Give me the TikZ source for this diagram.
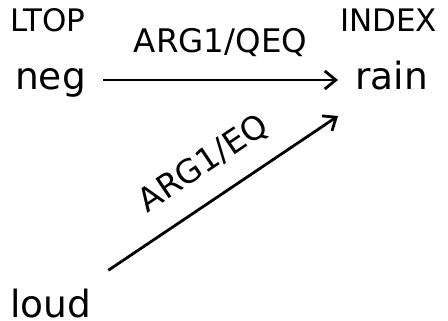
\documentclass[tikz,border=0pt]{standalone}
\usepackage{fontspec}
\setmainfont{DejaVu Sans}
\usetikzlibrary{arrows.meta,calc}
\tikzset{
  word/.style={inner sep=0pt, anchor=base west, font=\fontsize{37.5}{40}\selectfont},
  role/.style={inner sep=0pt, anchor=base west, font=\fontsize{31}{34}\selectfont},
  edgelabel/.style={inner sep=0pt, text depth=0pt, font=\fontsize{32.5}{35}\selectfont},
  link/.style={line width=2.8pt, -{Straight Barb[length=11pt,width=18pt]}}
}
\begin{document}
\begin{tikzpicture}[x=1pt,y=-1pt]
\useasboundingbox (0,0) rectangle (448,321);
\node[role] (ltop) at (10,32) {LTOP};
\node[role] (index) at (340,32) {INDEX};
\node[word] (neg) at (15,90) {neg};
\node[word] (rain) at (355,90) {rain};
\node[word] (loud) at (10,317) {loud};
\draw[link] ($(neg.base east)+(17,-10)$) -- node[edgelabel, above=26pt] (l1) {ARG1/QEQ} ($(rain.base west)+(-17,-10)$);
\draw[link] ($(loud.north east)+(17,-18)$) -- node[edgelabel, sloped, above=24pt] (l2) {ARG1/EQ} ($(rain.base west)+(-17,26)$);
\end{tikzpicture}
\end{document}
